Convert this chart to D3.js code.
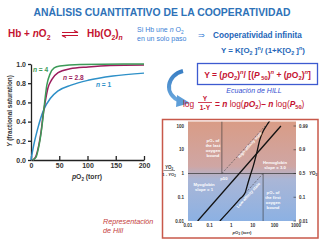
<!DOCTYPE html>
<html>
<head>
<meta charset="utf-8">
<script src="https://cdn.jsdelivr.net/npm/d3@7"></script>
<style>
body{margin:0;background:#fff}
svg{display:block;font-family:"Liberation Sans",Arial,sans-serif}
</style>
</head>
<body>
<svg width="320" height="240"></svg>
<script>
// saturation curves, pO2 (torr) vs Y
var sat_ticks = [0, 0.2, 0.4, 0.6, 0.8, 1.0];
var po2_ticks = [0, 50, 100, 150, 200];
var n1_p  = [0, 5, 12, 23, 34, 48, 71, 101, 145, 200];
var n1_y  = [0, .16, .33, .53, .64, .72, .78, .83, .875, .905];
var n28_p = [3, 8, 14, 18, 21, 25, 30, 37, 48, 69, 101, 140, 200];
var n28_y = [0, .03, .16, .3, .45, .6, .75, .84, .91, .95, .97, .985, .99];
var n4_p  = [3, 9, 13, 16, 20, 23, 28, 34, 41, 51, 87, 200];
var n4_y  = [0, .03, .12, .21, .38, .54, .78, .9, .96, .98, .995, 1.0];

// hill plot, pO2 vs Y/(1-Y)
var hill_yticks = [100, 10, 1, 0.1, 0.01];
var hill_ylabels = ["100", "10", "1", "0.1", "0.01"];
var hill_rlabels = ["0.99", "0.9", "0.5", "0.1", "0.01"];
var hill_xticks = [0.01, 0.1, 1, 10, 100, 1000];
var hill_xlabels = ["0.01", "0.1", "1", "10", "100", "1000"];
var mb_p = [0.028, 200];
var mb_r = [0.01, 100];
var hb_p = [0.3, 1, 2.5, 4.35, 6, 8, 10.5, 15, 21.5, 30, 45, 70];
var hb_r = [0.01, 0.033, 0.085, 0.15, 0.4, 0.95, 2.05, 7, 28, 60, 110, 200];
var hiaff_p = [0.37, 37];
var hiaff_r = [1, 100];
var loaff_p = [1, 30];
var loaff_r = [0.033, 1];
var p_last = 0.37, p_first = 30;

var svg = d3.select("svg");

function rich(parent, x, y, parts, size, color, anchor) {
  var t = parent.append("text")
      .attr("x", x).attr("y", y)
      .attr("font-size", size)
      .attr("fill", color)
      .attr("font-weight", "bold")
      .attr("text-anchor", anchor || "start");
  var shift = 0;
  parts.forEach(function(p) {
    var s = typeof p === "string" ? {t: p} : p;
    var want = s.sub ? size * 0.3 : (s.sup ? -size * 0.38 : 0);
    var ts = t.append("tspan").attr("dy", want - shift).text(s.t);
    shift = want;
    if (s.sub || s.sup) ts.attr("font-size", size * 0.68);
    if (s.i) ts.attr("font-style", "italic");
    if (s.w) ts.attr("font-weight", s.w);
  });
  return t;
}

// ---- header ----
svg.append("text")
    .attr("x", 162).attr("y", 16)
    .attr("text-anchor", "middle")
    .attr("font-size", 10.4).attr("font-weight", "bold")
    .attr("fill", "#2e72b8")
    .text("ANÁLISIS CUANTITATIVO DE LA COOPERATIVIDAD");

var red = "#c41230", blue = "#2f6fc0";
rich(svg, 8, 37, ["Hb + ", {t: "n", i: 1}, "O", {t: "2", sub: 1}], 10, red);
rich(svg, 87, 37, ["Hb(O", {t: "2", sub: 1}, ")", {t: "n", sub: 1, i: 1}], 10, red);
// equilibrium harpoons
svg.append("path").attr("d", "M62,32.5 H78 L74,30.5").attr("fill", "none").attr("stroke", red).attr("stroke-width", 1.2);
svg.append("path").attr("d", "M78,35.5 H62 L66,37.5").attr("fill", "none").attr("stroke", red).attr("stroke-width", 1.2);

rich(svg, 137, 32, ["Si Hb une ", {t: "n", i: 1}, " O", {t: "2", sub: 1}], 7, "#3d7fd6").attr("font-weight", "normal");
svg.append("text").attr("x", 137).attr("y", 41).attr("font-size", 7).attr("fill", "#3d7fd6").text("en un solo paso");
svg.append("text").attr("x", 198).attr("y", 38).attr("font-size", 7.5).attr("fill", "#3d7fd6").text("⇒");
svg.append("text").attr("x", 213).attr("y", 38).attr("font-size", 8.2).attr("font-weight", "bold").attr("fill", "#2466b8").text("Cooperatividad infinita");
rich(svg, 221, 53, ["Y =  K[O", {t: "2", sub: 1}, " ]", {t: "n", sup: 1}, "/ (1+K[O", {t: "2", sub: 1}, " ]", {t: "n", sup: 1}, ")"], 7.9, "#2466b8");

// Hill equation box
svg.append("rect").attr("x", 197.5).attr("y", 63.5).attr("width", 120).attr("height", 21)
    .attr("fill", "none").attr("stroke", "#3d5bd0").attr("stroke-width", 1.3);
rich(svg, 257.5, 77.5, ["Y =  (", {t: "p", i: 1}, "O", {t: "2", sub: 1}, ")", {t: "n", sup: 1, i: 1}, "/ [(", {t: "P", i: 1}, {t: " 50", sub: 1}, ")", {t: "n", sup: 1, i: 1}, " + (", {t: "p", i: 1}, "O", {t: "2", sub: 1}, ")", {t: "n", sup: 1, i: 1}, "]"], 8.5, red, "middle");

svg.append("text").attr("x", 254).attr("y", 93).attr("text-anchor", "middle")
    .attr("font-size", 7).attr("font-style", "italic").attr("fill", "#3450d0")
    .text("Ecuación de HILL");

// curved arrow
var defs = svg.append("defs");
var ag = defs.append("linearGradient").attr("id", "arr").attr("x1", 0).attr("y1", 0).attr("x2", 0).attr("y2", 1);
ag.append("stop").attr("offset", "0%").attr("stop-color", "#3a7fc4");
ag.append("stop").attr("offset", "100%").attr("stop-color", "#6aa8de");
svg.append("path").attr("d", "M183,71 C167,75 163,94 180,101")
    .attr("fill", "none").attr("stroke", "url(#arr)").attr("stroke-width", 4);
svg.append("path").attr("d", "M177,95 L190,103 L176,107 Z").attr("fill", "#5e9ed8");

// log form
svg.append("text").attr("x", 183).attr("y", 106.5).attr("font-size", 8.4).attr("fill", red).text("log");
svg.append("text").attr("x", 205).attr("y", 100.5).attr("text-anchor", "middle").attr("font-size", 6.6).attr("font-weight", "bold").attr("fill", red).text("Y");
svg.append("line").attr("x1", 198).attr("x2", 212).attr("y1", 102.5).attr("y2", 102.5).attr("stroke", red).attr("stroke-width", 0.8);
svg.append("text").attr("x", 205).attr("y", 109.5).attr("text-anchor", "middle").attr("font-size", 6.6).attr("font-weight", "bold").attr("fill", red).text("1-Y");
rich(svg, 215, 106.5, ["= ", {t: " n", i: 1}, {t: " log(", w: "normal"}, {t: "pO", i: 1}, {t: "2", sub: 1}, {t: ")", w: "normal"}, "\u2013 ", {t: "n", i: 1}, {t: " log(", w: "normal"}, {t: "P", i: 1}, {t: "50", sub: 1}, {t: ")", w: "normal"}], 8.4, red);

// ---- saturation chart ----
var x = d3.scaleLinear().domain([0, 200]).range([31, 144]);
var y = d3.scaleLinear().domain([0, 1]).range([160, 64]);

var g1 = svg.append("g");
g1.append("g").attr("transform", "translate(0,160)")
    .call(d3.axisBottom(x).tickValues(po2_ticks).tickSizeInner(-4).tickSizeOuter(0).tickPadding(3));
g1.append("g").attr("transform", "translate(31,0)")
    .call(d3.axisLeft(y).tickValues(sat_ticks).tickFormat(d3.format(".1f")).tickSizeInner(3).tickSizeOuter(0).tickPadding(2));
g1.selectAll(".domain, .tick line").attr("stroke", "#222").attr("stroke-width", 1.3);
g1.selectAll(".tick text").attr("font-size", 7).attr("font-weight", "bold").attr("fill", "#333")
    .attr("font-family", "Liberation Sans, Arial, sans-serif");

var line1 = d3.line().x(function(d) { return x(d[0]); }).y(function(d) { return y(d[1]); }).curve(d3.curveMonotoneX);
var curves = [
  {p: n1_p, v: n1_y, c: "#2e90c8"},
  {p: n28_p, v: n28_y, c: "#9c1d5e"},
  {p: n4_p, v: n4_y, c: "#3c9a58"}
];
curves.forEach(function(s) {
  g1.append("path").datum(d3.zip(s.p, s.v)).attr("d", line1)
      .attr("fill", "none").attr("stroke", s.c).attr("stroke-width", 1.5);
});
rich(g1, 33, 71.5, [{t: "n", i: 1}, " = 4"], 6.6, "#3c9a58");
rich(g1, 63, 80, [{t: "n", i: 1}, " = 2.8"], 6.6, "#9c1d5e");
rich(g1, 96, 87, [{t: "n", i: 1}, " = 1"], 6.6, "#2e90c8");

rich(g1, 87, 178.5, [{t: "p", i: 1}, "O", {t: "2", sub: 1}, " (torr)"], 6.8, "#333", "middle");
var yl = rich(g1, 0, 0, [{t: "Y", i: 1}, " (fractional saturation)"], 6.4, "#333", "middle");
yl.attr("transform", "translate(12,111) rotate(-90)");

svg.append("text").attr("x", 103).attr("y", 224).attr("font-size", 7.2).attr("font-style", "italic").attr("fill", "#c43c3c").text("Representación");
svg.append("text").attr("x", 103).attr("y", 233).attr("font-size", 7.2).attr("font-style", "italic").attr("fill", "#c43c3c").text("de Hill");

// ---- Hill plot ----
svg.append("rect").attr("x", 162.5).attr("y", 119.5).attr("width", 155.5).attr("height", 118.5)
    .attr("fill", "#fff").attr("stroke", "#c8584a").attr("stroke-width", 1.5);

var hx = d3.scaleLog().domain([0.01, 1000]).range([188, 296]);
var hy = d3.scaleLog().domain([0.01, 100]).range([221, 126]);
var top_y = 121.5;

var bg = defs.append("linearGradient").attr("id", "hillbg").attr("x1", 0).attr("y1", 0).attr("x2", 0).attr("y2", 1);
bg.append("stop").attr("offset", "0%").attr("stop-color", "#d99c86");
bg.append("stop").attr("offset", "45%").attr("stop-color", "#cfa6a4");
bg.append("stop").attr("offset", "58%").attr("stop-color", "#aab6d6");
bg.append("stop").attr("offset", "100%").attr("stop-color", "#8cb1e3");
defs.append("clipPath").attr("id", "hclip").append("rect")
    .attr("x", 188).attr("y", top_y).attr("width", 108).attr("height", 221 - top_y);

var g2 = svg.append("g");
g2.append("rect").attr("x", 188).attr("y", top_y).attr("width", 108).attr("height", 221 - top_y).attr("fill", "url(#hillbg)");

var inner = g2.append("g").attr("clip-path", "url(#hclip)");
inner.append("line").attr("x1", 188).attr("x2", 296).attr("y1", hy(1)).attr("y2", hy(1))
    .attr("stroke", "#333").attr("stroke-width", 0.7);
inner.append("line").attr("x1", hx(p_last)).attr("x2", hx(p_last)).attr("y1", top_y).attr("y2", hy(1))
    .attr("stroke", "#333").attr("stroke-width", 0.6);
inner.append("line").attr("x1", hx(p_first)).attr("x2", hx(p_first)).attr("y1", hy(1)).attr("y2", 221)
    .attr("stroke", "#333").attr("stroke-width", 0.6);

var hline = d3.line().x(function(d) { return hx(d[0]); }).y(function(d) { return hy(d[1]); });
inner.append("path").datum(d3.zip(hiaff_p, hiaff_r)).attr("d", hline)
    .attr("fill", "none").attr("stroke", "#444").attr("stroke-width", 0.6).attr("stroke-dasharray", "2,1.5");
inner.append("path").datum(d3.zip(loaff_p, loaff_r)).attr("d", hline)
    .attr("fill", "none").attr("stroke", "#444").attr("stroke-width", 0.6).attr("stroke-dasharray", "2,1.5");
inner.append("path").datum(d3.zip(mb_p, mb_r)).attr("d", hline)
    .attr("fill", "none").attr("stroke", "#111").attr("stroke-width", 1.3);
inner.append("path").datum(d3.zip(hb_p, hb_r)).attr("d", hline.curve(d3.curveMonotoneX))
    .attr("fill", "none").attr("stroke", "#111").attr("stroke-width", 1.3);

// tick labels
g2.selectAll(".yl").data(hill_yticks).enter().append("text")
    .attr("x", 184).attr("y", function(d) { return hy(d) + 1.6; })
    .attr("text-anchor", "end").attr("font-size", 4.5).attr("font-weight", "bold").attr("fill", "#333")
    .text(function(d, i) { return hill_ylabels[i]; });
g2.selectAll(".rl").data(hill_yticks).enter().append("text")
    .attr("x", 299).attr("y", function(d) { return hy(d) + 1.6; })
    .attr("font-size", 4.5).attr("font-weight", "bold").attr("fill", "#333")
    .text(function(d, i) { return hill_rlabels[i]; });
g2.selectAll(".rt").data(hill_yticks).enter().append("line")
    .attr("x1", 293.5).attr("x2", 296).attr("y1", function(d) { return hy(d); }).attr("y2", function(d) { return hy(d); })
    .attr("stroke", "#333").attr("stroke-width", 0.6);
g2.selectAll(".xl").data(hill_xticks).enter().append("text")
    .attr("x", function(d) { return hx(d); }).attr("y", 227)
    .attr("text-anchor", "middle").attr("font-size", 4.5).attr("font-weight", "bold").attr("fill", "#333")
    .text(function(d, i) { return hill_xlabels[i]; });
rich(g2, 242, 233.5, [{t: "p", i: 1}, "O", {t: "2", sub: 1}, " (torr)"], 4.3, "#333", "middle");
rich(g2, 309, hy(1) + 1.6, [{t: "Y", i: 1}, "O", {t: "2", sub: 1}], 4.5, "#333");
rich(g2, 169, 168.5, [{t: "Y", i: 1}, "O", {t: "2", sub: 1}], 4.5, "#333", "middle");
g2.append("line").attr("x1", 163.5).attr("x2", 175).attr("y1", 170.5).attr("y2", 170.5).attr("stroke", "#333").attr("stroke-width", 0.5);
rich(g2, 169, 175.5, ["1 - ", {t: "Y", i: 1}, "O", {t: "2", sub: 1}], 4.2, "#333", "middle");

// annotations
function note(lines, cx, cy) {
  lines.forEach(function(l, i) {
    g2.append("text").attr("x", cx).attr("y", cy + i * 5)
        .attr("text-anchor", "middle").attr("font-size", 4.2).attr("font-weight", "bold").attr("fill", "#fff")
        .text(l);
  });
}
note(["pO\u2082 of", "the last", "oxygen", "bound"], 213, 142);
note(["pO\u2082 of", "the first", "oxygen", "bound"], 273, 194);
note(["Hemoglobin", "slope = 3.0"], 275, 164);
note(["Myoglobin", "slope = 1"], 204, 186);
g2.append("text").attr("x", hx(p_last) + 2).attr("y", hy(1) + 6).attr("text-anchor", "middle")
    .attr("font-size", 4.2).attr("font-weight", "bold").attr("fill", "#fff").text("p50");
var ang = Math.atan2(hy(100) - hy(1), hx(37) - hx(0.37)) * 180 / Math.PI;
g2.append("text").attr("transform", "translate(" + (hx(6) + 3) + "," + (hy(16) + 1) + ") rotate(" + ang + ")")
    .attr("text-anchor", "middle").attr("font-size", 4).attr("font-weight", "bold").attr("fill", "#fff").text("High-affinity state");
g2.append("text").attr("transform", "translate(" + (hx(4.5) + 4) + "," + (hy(0.15) + 3) + ") rotate(" + ang + ")")
    .attr("text-anchor", "middle").attr("font-size", 4).attr("font-weight", "bold").attr("fill", "#fff").text("Low-affinity state");
</script>
</body>
</html>
